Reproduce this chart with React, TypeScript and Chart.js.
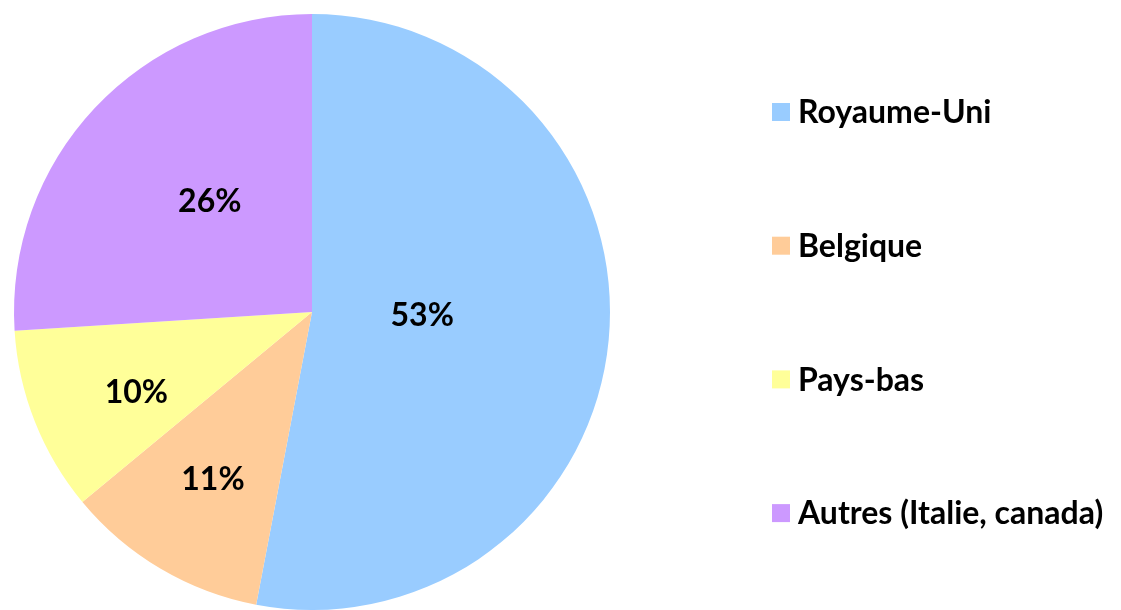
import React, { useEffect, useRef } from "react";
import { Chart, registerables } from "chart.js";

Chart.register(...registerables);

const categories = ["Royaume-Uni", "Belgique", "Pays-bas", "Autres (Italie, canada)"];
const shares = [53, 11, 10, 26];
const sliceColors = ["#99CCFF", "#FFCC99", "#FFFF99", "#CC99FF"];
const labelRadiusFractions = [0.37, 0.653, 0.648, 0.505];
const labelAngleOffsetsDeg = [-3.3, 0, -3, 4];

const FONT = "bold 32px Lato, 'Open Sans', sans-serif";

const labelPlugin = {
  id: "sliceLabels",
  afterDatasetsDraw(chart: any) {
    const ctx = chart.ctx;
    const meta = chart.getDatasetMeta(0);
    ctx.save();
    ctx.font = FONT;
    ctx.fillStyle = "#000";
    ctx.textAlign = "center";
    ctx.textBaseline = "middle";
    meta.data.forEach((arc: any, i: number) => {
      const { x, y, startAngle, endAngle, outerRadius } = arc.getProps(
        ["x", "y", "startAngle", "endAngle", "outerRadius"],
        true
      );
      const mid = (startAngle + endAngle) / 2 + (labelAngleOffsetsDeg[i] * Math.PI) / 180;
      const r = outerRadius * labelRadiusFractions[i];
      ctx.fillText(shares[i] + "%", x + Math.cos(mid) * r, y + Math.sin(mid) * r);
    });
    ctx.restore();
  },
};

const legendPlugin = {
  id: "sideLegend",
  afterDraw(chart: any) {
    const ctx = chart.ctx;
    const left = 772;
    const top = 112;
    const step = 133.7;
    const box = 18;
    ctx.save();
    ctx.font = FONT;
    ctx.textBaseline = "middle";
    ctx.textAlign = "left";
    categories.forEach((label, i) => {
      const cy = top + i * step;
      ctx.fillStyle = sliceColors[i];
      ctx.fillRect(left, cy - box / 2, box, box);
      ctx.fillStyle = "#000";
      ctx.fillText(label, left + 26, cy + 1);
    });
    ctx.restore();
  },
};

export default function App() {
  const ref = useRef<HTMLCanvasElement>(null);
  useEffect(() => {
    if (!ref.current) return;
    const chart = new Chart(ref.current, {
      type: "pie",
      data: {
        labels: categories,
        datasets: [
          {
            data: shares,
            backgroundColor: sliceColors,
            borderWidth: 0,
          },
        ],
      },
      options: {
        animation: false,
        responsive: false,
        layout: { padding: { left: 0, right: 497, top: 14, bottom: 0 } },
        plugins: {
          legend: { display: false },
          tooltip: { enabled: false },
        },
      },
      plugins: [labelPlugin, legendPlugin],
    });
    return () => chart.destroy();
  }, []);
  return (
    <div style={{ position: "absolute", left: 0, top: 0, width: 1121, height: 610, background: "#fff" }}>
      <canvas ref={ref} width={1121} height={610} />
    </div>
  );
}
